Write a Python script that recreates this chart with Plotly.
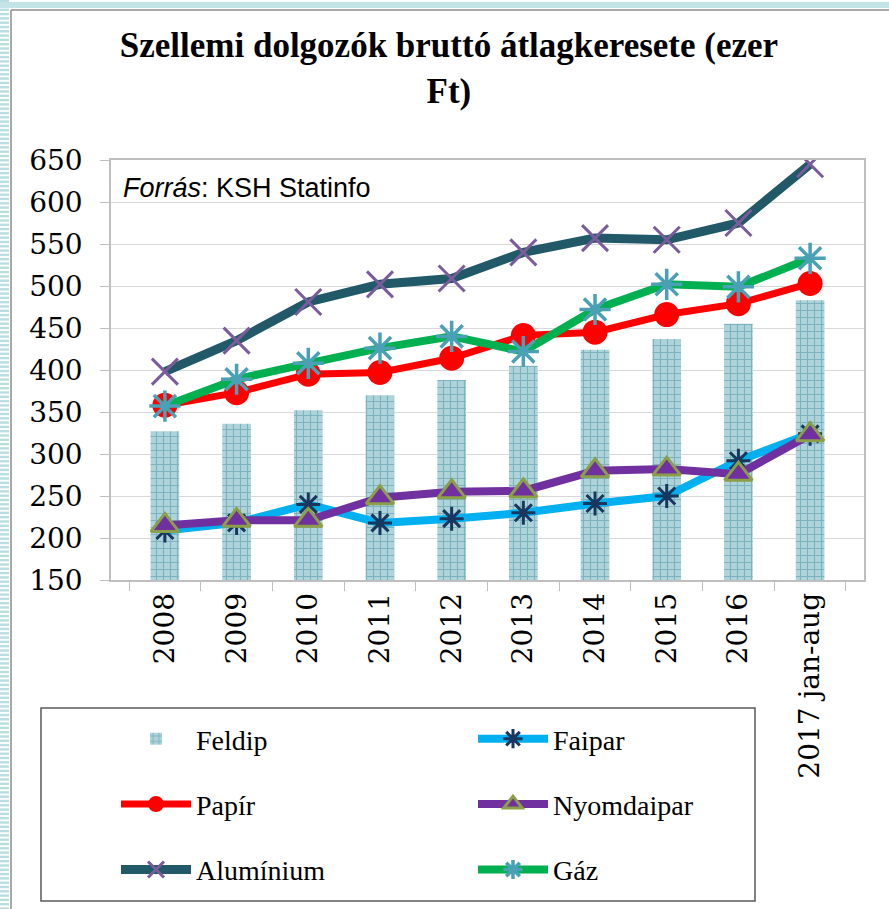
import plotly.graph_objects as go

categories = ["2008", "2009", "2010", "2011", "2012", "2013", "2014", "2015", "2016", "2017 jan-aug"]
feldip = [327, 336, 352, 370, 388, 405, 424, 437, 455, 483]
faipar = [209, 218, 240, 218, 223, 230, 241, 250, 292, 324]
papir = [358, 373, 395, 397, 414, 441, 445, 466, 479, 503]
nyomdaipar = [215, 221, 221, 248, 255, 256, 280, 282, 276, 323]
aluminium = [398, 435, 481, 502, 509, 540, 557, 555, 575, 645]
gaz = [357, 389, 408, 426, 440, 422, 472, 502, 499, 533]
y_ticks = [150, 200, 250, 300, 350, 400, 450, 500, 550, 600, 650]

W, H = 889, 909
L, R, T, B = 111, 864, 160, 580


def px(x):
    return (x - L) / (R - L)


def py(y):
    return (B - y) / (B - T)


def cx(x):
    return x / W


def cy(y):
    return 1 - y / H


fig = go.Figure()

fig.add_trace(go.Bar(
    x=categories, y=feldip, name="Feldip", width=0.4,
    marker=dict(color="#afd3da", line=dict(width=0),
                pattern=dict(shape="+", size=7, solidity=0.3,
                             fgcolor="#4b93a4", bgcolor="#afd3da")),
    legend="legend", legendgroup="g1",
))
fig.add_trace(go.Scatter(
    x=categories, y=faipar, name="Faipar", mode="lines+markers",
    line=dict(color="#00b0f0", width=8),
    marker=dict(symbol="asterisk-open", size=20, color="#17375e",
                line=dict(width=3, color="#17375e")),
    legend="legend2", legendgroup="g2",
))
fig.add_trace(go.Scatter(
    x=categories, y=papir, name="Papír", mode="lines+markers",
    line=dict(color="#ff0000", width=7),
    marker=dict(symbol="circle", size=25, color="#ff0000"),
    legend="legend", legendgroup="g3",
))
fig.add_trace(go.Scatter(
    x=categories, y=nyomdaipar, name="Nyomdaipar", mode="lines+markers",
    line=dict(color="#7030a0", width=8),
    marker=dict(symbol="triangle-up", size=24, color="#7030a0",
                line=dict(width=3, color="#8a9f48")),
    legend="legend2", legendgroup="g4",
))
fig.add_trace(go.Scatter(
    x=categories, y=aluminium, name="Alumínium", mode="lines+markers",
    line=dict(color="#215968", width=9),
    marker=dict(symbol="x-thin-open", size=26, color="#7a5c9c",
                line=dict(width=3, color="#7a5c9c")),
    legend="legend", legendgroup="g5",
))
fig.add_trace(go.Scatter(
    x=categories, y=gaz, name="Gáz", mode="lines+markers",
    line=dict(color="#00b050", width=8),
    marker=dict(symbol="asterisk-open", size=26, color="#4aa0b5",
                line=dict(width=3.5, color="#4aa0b5")),
    legend="legend2", legendgroup="g6",
))

shapes = []
# decorative striped border (left and top)
y = 0.0
while y < H:
    shapes.append(dict(type="rect", xref="paper", yref="paper",
                       x0=px(0), x1=px(9), y0=py(y), y1=py(y + 2.4),
                       fillcolor="#b8dde2", line=dict(width=0), layer="below"))
    y += 4.3
shapes.append(dict(type="rect", xref="paper", yref="paper",
                   x0=px(0), x1=px(W), y0=py(2), y1=py(8),
                   fillcolor="#c4e3e7", line=dict(width=0), layer="below"))
shapes.append(dict(type="line", xref="paper", yref="paper",
                   x0=px(11), x1=px(11), y0=py(10), y1=py(H),
                   line=dict(color="#8c8c8c", width=1.5)))
shapes.append(dict(type="line", xref="paper", yref="paper",
                   x0=px(11), x1=px(W), y0=py(10), y1=py(10),
                   line=dict(color="#8c8c8c", width=1.5)))
# legend box
shapes.append(dict(type="rect", xref="paper", yref="paper",
                   x0=px(41), x1=px(755), y0=py(708), y1=py(901),
                   line=dict(color="#595959", width=1.5)))

legend_font = dict(family="Liberation Serif", size=28, color="black")

fig.update_layout(
    width=W, height=H,
    margin=dict(l=L, r=W - R, t=T, b=H - B, autoexpand=False),
    paper_bgcolor="white", plot_bgcolor="white",
    title=dict(text="<b>Szellemi dolgozók bruttó átlagkeresete (ezer<br>Ft)</b>",
               font=dict(family="Liberation Serif", size=35, color="black"),
               x=0.505, xref="container", xanchor="center",
               y=cy(57), yref="container", yanchor="top"),
    bargap=0.6,
    shapes=shapes,
    showlegend=True,
    legend=dict(x=cx(116), y=cy(714), xref="container", yref="container",
                xanchor="left", yanchor="top",
                font=legend_font, bgcolor="rgba(0,0,0,0)",
                tracegroupgap=26, itemwidth=70, traceorder="grouped"),
    legend2=dict(x=cx(473), y=cy(714), xref="container", yref="container",
                 xanchor="left", yanchor="top",
                 font=legend_font, bgcolor="rgba(0,0,0,0)",
                 tracegroupgap=26, itemwidth=70, traceorder="grouped"),
    annotations=[dict(text="<i>Forrás</i>: KSH Statinfo", xref="paper", yref="paper",
                      x=px(121), y=py(188), xanchor="left", yanchor="middle",
                      showarrow=False,
                      font=dict(family="Liberation Sans", size=27, color="black"))],
)

fig.update_xaxes(
    type="category", categoryorder="array", categoryarray=categories,
    tickangle=-90, tickson="boundaries", ticks="outside", ticklen=9,
    tickcolor="#bfbfbf", showline=True, linecolor="#bfbfbf", linewidth=1.5,
    mirror=True, showgrid=False, automargin=False,
    tickfont=dict(family="DejaVu Serif", size=28, color="black"),
)
fig.update_yaxes(
    range=[150, 650], tickvals=y_ticks, ticks="outside", ticklen=9,
    tickcolor="#bfbfbf", showline=True, linecolor="#bfbfbf", linewidth=1.5,
    mirror=True, gridcolor="#d9d9d9", gridwidth=1.2, zeroline=False,
    ticklabelstandoff=12, automargin=False,
    tickfont=dict(family="DejaVu Serif", size=28, color="black"),
)

fig.write_html("out.html", config={"displayModeBar": False},
               post_script="document.body.style.margin='0';document.body.style.padding='0';")
